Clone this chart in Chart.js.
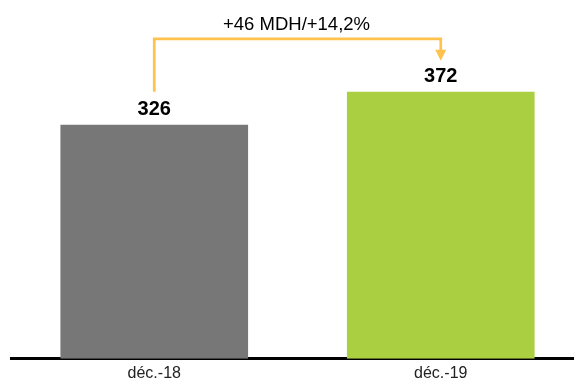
<!DOCTYPE html>
<html>
<head>
<meta charset="utf-8">
<script src="https://cdn.jsdelivr.net/npm/chart.js@4/dist/chart.umd.min.js"></script>
<style>
  html, body { margin: 0; padding: 0; background: #fff; overflow: hidden; }
  #wrap { position: relative; width: 584px; height: 388px; }
</style>
</head>
<body>
<div id="wrap"><canvas id="c"></canvas></div>
<script>
const categories = ['déc.-18', 'déc.-19'];
const values = [326, 372];
const barColors = ['#777777', '#aacf40'];
const changeLabel = '+46 MDH/+14,2%';

// value labels above bars + the change arrow between the two bars
const annotations = {
  id: 'annotations',
  afterDatasetsDraw(chart) {
    const ctx = chart.ctx;
    const meta = chart.getDatasetMeta(0);
    const y = chart.scales.y;
    ctx.save();
    ctx.fillStyle = '#000';
    ctx.font = 'bold 20px "Liberation Sans", Arial, sans-serif';
    ctx.textAlign = 'center';
    ctx.textBaseline = 'alphabetic';
    meta.data.forEach((bar, i) => {
      ctx.fillText(String(values[i]), bar.x, y.getPixelForValue(values[i]) - 9.5);
    });

    const x1 = meta.data[0].x, x2 = meta.data[1].x;
    const yStart = y.getPixelForValue(values[0]) - 33;
    const yTop = y.getPixelForValue(values[1]) - 53;
    const yTip = y.getPixelForValue(values[1]) - 31;
    ctx.strokeStyle = '#ffc34d';
    ctx.fillStyle = '#ffc34d';
    ctx.lineWidth = 2.7;
    ctx.beginPath();
    ctx.moveTo(x1, yStart);
    ctx.lineTo(x1, yTop);
    ctx.lineTo(x2, yTop);
    ctx.lineTo(x2, yTip - 9);
    ctx.stroke();
    ctx.beginPath();
    ctx.moveTo(x2 - 5.5, yTip - 11);
    ctx.lineTo(x2 + 5.5, yTip - 11);
    ctx.lineTo(x2, yTip);
    ctx.closePath();
    ctx.fill();

    ctx.fillStyle = '#000';
    ctx.font = '18.5px "Liberation Sans", Arial, sans-serif';
    ctx.fillText(changeLabel, (x1 + x2) / 2 - 1, yTop - 9);
    ctx.restore();
  }
};

new Chart(document.getElementById('c'), {
  type: 'bar',
  data: {
    labels: categories,
    datasets: [{
      data: values,
      backgroundColor: barColors,
      borderWidth: 0,
      barPercentage: 0.655,
      categoryPercentage: 1
    }]
  },
  options: {
    responsive: true,
    maintainAspectRatio: false,
    animation: false,
    layout: { padding: { left: 11, right: 0, top: 0, bottom: 0 } },
    plugins: { legend: { display: false }, tooltip: { enabled: false } },
    scales: {
      x: {
        grid: { display: false, drawTicks: false },
        border: { display: true, color: '#000', width: 3 },
        ticks: {
          color: '#222',
          padding: 5,
          font: { size: 16, family: '"Liberation Sans", Arial, sans-serif' }
        }
      },
      y: {
        display: false,
        min: 0,
        max: 500
      }
    }
  },
  plugins: [annotations]
});
</script>
</body>
</html>
